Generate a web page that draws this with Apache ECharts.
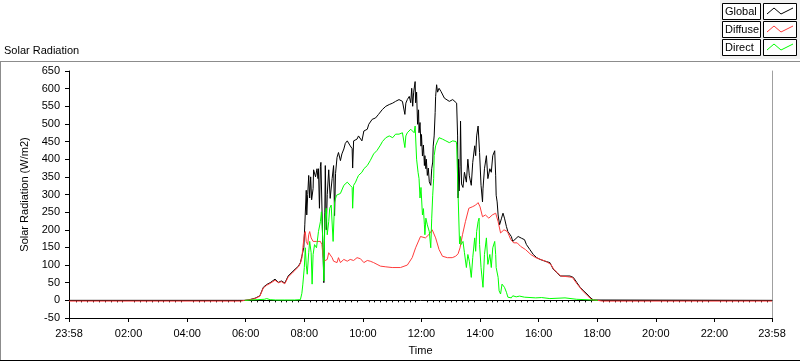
<!DOCTYPE html>
<html>
<head>
<meta charset="utf-8">
<script src="https://cdn.jsdelivr.net/npm/echarts@6/dist/echarts.min.js"></script>
<style>
html,body{margin:0;padding:0;background:#fff;}
#chart{width:800px;height:361px;}
</style>
</head>
<body>
<div id="chart"></div>
<script>
// time values are minutes since midnight (-2 = 23:58 of the previous day)
const xTickLabels = [-2, 120, 240, 360, 480, 600, 720, 840, 960, 1080, 1200, 1320, 1438];
const yTicks = { min: -50, max: 650, step: 50 };
const seriesNames = ['Global', 'Diffuse', 'Direct'];

const globalData = [[-2,0],[343,0],[358,0],[365,1],[379,6],[389,13],[396,37],[403,45],[410,50],[420,60],[427,51],[433,55],[440,49],[447,69],[457,83],[468,97],[472,107],[475,125],[479,150],[481,214],[484,312],[485,242],[487,300],[489,354],[491,290],[493,350],[495,285],[498,317],[499,370],[503,350],[506,373],[508,345],[509,373],[511,261],[513,380],[514,391],[516,393],[518,150],[520,50],[522,250],[523,382],[525,200],[527,300],[530,370],[533,289],[537,345],[540,382],[542,240],[544,360],[547,405],[550,419],[554,396],[557,415],[561,429],[564,445],[568,452],[571,449],[574,438],[578,430],[579,375],[581,452],[588,457],[591,466],[595,470],[598,452],[602,480],[609,485],[612,499],[619,513],[626,517],[632,527],[640,541],[647,550],[654,555],[661,559],[667,564],[674,569],[681,564],[686,527],[688,559],[691,569],[695,578],[698,560],[700,601],[702,550],[704,590],[707,620],[708,560],[710,590],[712,499],[714,540],[715,475],[717,504],[719,437],[720,470],[722,409],[724,440],[726,382],[727,410],[729,373],[730,400],[732,354],[734,375],[736,336],[739,326],[741,373],[743,392],[744,437],[746,466],[748,532],[749,578],[751,611],[753,590],[756,601],[760,592],[763,587],[767,573],[770,569],[777,564],[781,559],[784,569],[788,566],[792,559],[794,466],[795,290],[796,400],[797,310],[799,380],[800,508],[802,330],[805,320],[808,363],[812,335],[815,400],[818,353],[822,326],[825,391],[829,438],[831,410],[833,466],[836,494],[838,497],[839,419],[842,326],[845,279],[846,316],[849,373],[853,410],[856,345],[860,373],[863,363],[866,410],[870,424],[872,353],[873,298],[875,279],[877,242],[880,214],[884,233],[887,247],[890,233],[894,209],[897,195],[904,181],[907,167],[911,172],[918,181],[925,176],[931,172],[935,158],[942,144],[949,130],[956,121],[963,116],[973,111],[983,107],[990,88],[997,79],[1004,69],[1014,69],[1024,69],[1031,65],[1038,51],[1045,37],[1052,27],[1059,18],[1065,9],[1072,1],[1076,0],[1438,0]];

const diffuseData = [[-2,-2],[350,-2],[358,0],[365,1],[379,5],[389,12],[396,35],[403,43],[410,48],[420,57],[427,50],[433,53],[440,47],[447,66],[457,80],[468,95],[472,105],[475,120],[477,149],[480,186],[482,195],[484,167],[487,158],[489,186],[491,195],[494,177],[498,167],[501,172],[505,167],[509,163],[513,167],[516,158],[518,130],[520,111],[524,111],[527,116],[530,135],[533,135],[537,121],[540,111],[547,107],[550,121],[554,107],[561,116],[568,111],[574,116],[581,113],[588,121],[591,125],[595,118],[602,107],[609,113],[615,111],[622,107],[629,102],[636,97],[647,95],[660,93],[677,93],[691,100],[701,121],[708,149],[718,181],[728,177],[735,186],[742,200],[745,195],[749,177],[756,144],[763,125],[773,121],[783,121],[790,125],[795,132],[799,149],[804,186],[810,223],[817,261],[824,265],[831,270],[836,277],[840,265],[845,237],[851,242],[858,233],[865,242],[872,247],[877,223],[882,191],[889,200],[896,195],[903,172],[909,163],[916,163],[923,153],[933,144],[944,130],[954,121],[964,116],[974,111],[985,102],[991,88],[998,79],[1005,69],[1019,67],[1029,65],[1039,46],[1050,27],[1060,13],[1070,1],[1081,0],[1090,-2],[1438,-2]];

const directData = [[358,0],[370,1],[385,2],[398,3],[403,5],[410,2],[421,1],[440,1],[460,1],[472,2],[475,20],[477,46],[480,93],[482,149],[484,100],[486,74],[489,135],[491,167],[494,135],[496,46],[498,130],[501,158],[505,149],[509,195],[513,223],[515,251],[518,167],[520,55],[522,223],[525,261],[527,186],[530,223],[532,261],[535,270],[539,167],[542,279],[546,298],[550,293],[554,303],[557,298],[561,326],[564,330],[568,335],[571,330],[574,326],[578,320],[579,261],[581,326],[585,335],[588,345],[591,354],[595,349],[598,363],[602,373],[605,377],[609,382],[615,396],[622,415],[629,425],[636,440],[640,450],[647,461],[654,466],[661,461],[667,471],[674,471],[681,475],[686,433],[688,466],[691,475],[695,471],[698,485],[702,489],[705,475],[707,494],[710,400],[713,363],[715,345],[717,290],[719,320],[722,242],[724,260],[726,214],[727,186],[729,233],[732,214],[736,195],[739,149],[741,233],[743,298],[745,345],[746,410],[749,438],[753,452],[756,461],[760,457],[763,457],[770,452],[777,447],[784,452],[791,450],[792,443],[795,300],[796,298],[798,160],[800,181],[801,158],[805,167],[808,135],[812,93],[815,130],[818,111],[822,65],[825,121],[829,177],[831,139],[833,195],[836,223],[838,233],[839,158],[842,93],[846,37],[849,130],[853,177],[856,102],[860,130],[863,93],[866,149],[870,167],[872,130],[873,93],[877,65],[879,27],[882,18],[885,46],[888,51],[890,37],[894,23],[897,9],[904,7],[907,13],[911,15],[914,10],[921,12],[931,9],[954,7],[966,8],[983,5],[1014,7],[1038,3],[1073,1],[1081,0]];

const colors = ['#000000', '#ff3c3c', '#00ff00'];
const FONT = 'Liberation Sans';

function pad(n){ return (n < 10 ? '0' : '') + n; }
function fmtTime(v){
  if (v < 0 || v >= 1438) return '23:58';
  return pad(Math.floor(v / 60)) + ':' + pad(Math.round(v % 60));
}
const minorTicks = [];
for (let m = 12; m < 1438; m += 12) { if (m % 120 !== 0) minorTicks.push(m); }

const chart = echarts.init(document.getElementById('chart'), null, { renderer: 'canvas' });

// legend drawn as boxed entries like the original
const legendGraphics = [];
legendGraphics.push({ type: 'rect', shape: { x: 720, y: 0, width: 80, height: 59 }, style: { fill: '#f0f0f0' }, silent: true });
seriesNames.forEach((name, i) => {
  const top = 3 + i * 18;
  legendGraphics.push({ type: 'rect', shape: { x: 722.5, y: top + 0.5, width: 38, height: 16 }, style: { fill: '#ffffff', stroke: '#000', lineWidth: 1 } });
  legendGraphics.push({ type: 'text', x: 725, y: top + 9, style: { text: name, font: '11px ' + FONT, fill: '#000', verticalAlign: 'middle' } });
  legendGraphics.push({ type: 'rect', shape: { x: 763.5, y: top + 0.5, width: 33, height: 16 }, style: { fill: '#ffffff', stroke: '#000', lineWidth: 1 } });
  legendGraphics.push({ type: 'polyline', shape: { points: [[767, top + 11], [774, top + 5], [781, top + 11], [787, top + 8], [793, top + 5]] }, style: { stroke: colors[i], lineWidth: 1, fill: null } });
});

const option = {
  animation: false,
  backgroundColor: '#ffffff',
  textStyle: { fontFamily: FONT },
  grid: { left: 69, top: 71, width: 703, height: 250, show: false },
  xAxis: [
    {
      type: 'value', min: -2, max: 1438, position: 'bottom',
      name: 'Time', nameLocation: 'middle', nameGap: 27,
      nameTextStyle: { color: '#000', fontSize: 11, fontFamily: FONT, verticalAlign: 'top' },
      axisLine: { show: true, onZero: false, lineStyle: { color: '#000', width: 1 } },
      axisTick: { show: true, length: 4, inside: false, customValues: xTickLabels, lineStyle: { color: '#000' } },
      axisLabel: { customValues: xTickLabels, formatter: fmtTime, color: '#000', fontSize: 11, fontFamily: FONT, margin: 10 },
      splitLine: { show: false }
    },
    {
      type: 'value', min: -2, max: 1438, position: 'bottom',
      axisLine: { show: false },
      axisTick: { show: true, length: 2, inside: false, customValues: minorTicks, lineStyle: { color: '#000' } },
      axisLabel: { show: false },
      splitLine: { show: false }
    },
    {
      type: 'value', min: -2, max: 1438, position: 'top',
      axisLine: { show: true, lineStyle: { color: '#000', width: 1 } },
      axisTick: { show: false }, axisLabel: { show: false }, splitLine: { show: false }
    }
  ],
  yAxis: [
    {
      type: 'value', min: yTicks.min, max: yTicks.max, interval: yTicks.step, position: 'left',
      name: 'Solar Radiation (W/m2)', nameLocation: 'middle', nameGap: 37, nameRotate: 90,
      nameTextStyle: { color: '#000', fontSize: 11, fontFamily: FONT },
      axisLine: { show: true, onZero: false, lineStyle: { color: '#000', width: 1 } },
      axisTick: { show: true, length: 4, inside: false, lineStyle: { color: '#000' } },
      axisLabel: { color: '#000', fontSize: 11, fontFamily: FONT, margin: 9 },
      splitLine: { show: false }
    },
    {
      type: 'value', min: yTicks.min, max: yTicks.max, position: 'right',
      axisLine: { show: true, onZero: false, lineStyle: { color: '#a0a0a0', width: 1 } },
      axisTick: { show: false }, axisLabel: { show: false }, splitLine: { show: false }
    }
  ],
  series: [
    { name: seriesNames[0], type: 'line', data: globalData, showSymbol: false, symbol: 'none', lineStyle: { color: colors[0], width: 1 }, itemStyle: { color: colors[0] }, xAxisIndex: 0, yAxisIndex: 0 },
    { name: seriesNames[1], type: 'line', data: diffuseData, showSymbol: false, symbol: 'none', lineStyle: { color: colors[1], width: 1 }, itemStyle: { color: colors[1] }, xAxisIndex: 0, yAxisIndex: 0 },
    { name: seriesNames[2], type: 'line', data: directData, showSymbol: false, symbol: 'none', lineStyle: { color: colors[2], width: 1 }, itemStyle: { color: colors[2] }, xAxisIndex: 0, yAxisIndex: 0 }
  ],
  graphic: [
    { type: 'line', shape: { x1: 0, y1: 61.5, x2: 800, y2: 61.5 }, style: { stroke: '#8c8c8c', lineWidth: 1 } },
    { type: 'line', shape: { x1: 0.5, y1: 61, x2: 0.5, y2: 361 }, style: { stroke: '#8c8c8c', lineWidth: 1 } },
    { type: 'line', shape: { x1: 0, y1: 360.5, x2: 800, y2: 360.5 }, style: { stroke: '#000', lineWidth: 1 } },
    { type: 'text', x: 4, y: 51, style: { text: 'Solar Radiation', font: '11px ' + FONT, fill: '#000', verticalAlign: 'middle' } }
  ].concat(legendGraphics)
};
chart.setOption(option);
</script>
</body>
</html>
